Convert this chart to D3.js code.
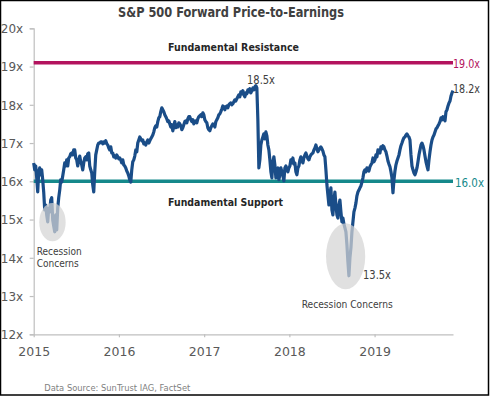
<!DOCTYPE html>
<html>
<head>
<meta charset="utf-8">
<script src="https://cdn.jsdelivr.net/npm/d3@7"></script>
<style>
  html, body { margin: 0; padding: 0; background: #fff; }
  svg { display: block; }
  text { font-family: "DejaVu Sans", "Liberation Sans", sans-serif; }
</style>
</head>
<body>
<svg id="chart" width="491" height="397"></svg>
<script>
// ---- Data ----
const title = "S&P 500 Forward Price-to-Earnings";
const yTicks = [12, 13, 14, 15, 16, 17, 18, 19, 20];
const yTickLabels = ["12x", "13x", "14x", "15x", "16x", "17x", "18x", "19x", "20x"];
const xTicks = [2015, 2016, 2017, 2018, 2019];
const xTickLabels = ["2015", "2016", "2017", "2018", "2019"];
const seriesStart = 2015.0;   // decimal year of first observation
const seriesEnd = 2019.92;    // decimal year of last observation

const pe2015 = [16.48,16.30,16.40,16.09,15.72,16.25,16.35,16.17,16.30,16.04,15.72,15.25,15.38,15.12,14.94,15.30,15.20,15.51,15.57,14.99,14.83,14.68,15.12,14.73,15.30,15.57,15.77,16.04,15.98,16.14,16.30,16.48,16.40,16.56,16.40,16.61,16.64,16.72,16.74,16.69,16.82,16.82,16.61,16.56,16.40,16.56,16.66,16.51,16.43,16.30,16.48,16.61,16.64,16.56,16.72,16.74,16.40,16.30,16.22,15.91,15.72,16.25,16.69,16.82,16.95,17.00,17.00,17.03,17.03,16.98,17.03,17.00,17.06,16.98,16.95,16.87,16.82,16.90,16.74,16.74,16.64,16.66,16.61,16.69,16.64,16.59];
const pe2016 = [16.61,16.56,16.48,16.56,16.43,16.40,16.35,16.27,16.22,16.14,16.04,15.98,16.30,16.51,16.56,16.66,16.82,16.77,17.00,17.08,17.16,17.11,17.06,17.08,16.98,17.00,16.95,17.03,17.08,17.00,17.06,17.11,17.16,17.21,17.29,17.40,17.45,17.42,17.56,17.66,17.69,17.82,17.92,17.87,17.82,17.74,17.69,17.63,17.56,17.58,17.50,17.42,17.48,17.32,17.45,17.56,17.40,17.48,17.42,17.53,17.50,17.45,17.35,17.40,17.48,17.56,17.58,17.53,17.63,17.69,17.69,17.61,17.56,17.61,17.50,17.56,17.58,17.53,17.63,17.69,17.71,17.74,17.69,17.79,17.74];
const pe2017 = [17.61,17.56,17.53,17.40,17.35,17.32,17.40,17.45,17.50,17.48,17.42,17.56,17.61,17.66,17.74,17.76,17.82,17.89,17.97,17.95,17.87,17.95,17.97,17.92,18.00,18.03,18.05,18.00,18.03,18.08,18.13,18.10,18.16,18.21,18.26,18.21,18.34,18.29,18.37,18.26,18.21,18.31,18.29,18.39,18.34,18.42,18.31,18.37,18.44,18.39,18.47,18.50,18.44,17.61,16.35,16.56,16.95,17.08,17.16,17.24,17.11,17.29,17.19,16.95,16.82,16.56,16.25,16.09,16.51,16.64,16.43,16.09,16.30,16.35,16.04,16.17,16.35,16.25,16.14,16.01,16.35,16.40,16.30,16.25,16.35];
const pe2018 = [16.40,16.56,16.48,16.61,16.45,16.48,16.25,16.17,16.35,16.40,16.56,16.64,16.56,16.48,16.61,16.69,16.74,16.66,16.59,16.56,16.64,16.69,16.72,16.74,16.82,16.87,16.95,16.85,16.77,16.82,16.87,16.90,16.85,16.79,16.69,16.64,16.30,15.91,15.64,15.38,15.64,15.83,15.25,15.12,15.51,15.72,15.38,15.12,15.04,15.38,15.51,15.20,14.94,15.04,14.88,14.78,14.68,14.34,13.89,13.53,14.00,14.26,14.68,14.94,15.20,15.30,15.43,15.62,15.72,15.77,15.83,15.88,15.98,16.09,16.25,16.30,16.25,16.35,16.32,16.27,16.38,16.43,16.48,16.61,16.51,16.56];
const pe2019 = [16.69,16.64,16.82,16.77,16.74,16.90,16.85,16.93,16.90,16.82,16.77,16.66,16.53,16.45,16.38,16.25,16.09,15.70,16.04,16.27,16.43,16.53,16.61,16.69,16.82,16.93,17.00,17.08,17.14,17.16,17.21,17.24,17.19,17.16,17.08,16.69,16.40,16.30,16.22,16.17,16.25,16.35,16.51,16.69,16.82,16.95,17.00,16.93,16.82,16.66,16.51,16.40,16.30,16.56,16.77,16.95,17.08,17.16,17.21,17.29,17.37,17.40,17.45,17.50,17.56,17.66,17.61,17.69,17.63,17.58,17.82,17.87,17.97,18.05,18.10,18.23,18.31,18.37];

const resistanceLevel = 19.1;
const supportLevel = 16.0;
const resistanceLabel = "19.0x";
const supportLabel = "16.0x";

const peakLabel = { text: "18.5x" };
const lastLabel = { text: "18.2x" };
const troughLabel = { text: "13.5x" };
const recession2015 = { year: 2015.22, value: 14.93, rxYears: 0.155, ryValue: 0.5 };
const recession2018 = { year: 2018.66, value: 14.04, rxYears: 0.23, ryValue: 0.86 };

// ---- Build series ----
const peValues = [].concat(pe2015, pe2016, pe2017, pe2018, pe2019);
const n = peValues.length;
const series = peValues.map((v, i) => ({ t: seriesStart + (seriesEnd - seriesStart) * i / (n - 1), v }));

// ---- Layout ----
const svg = d3.select("#chart");
const x = d3.scaleLinear().domain([2015, seriesEnd]).range([33.7, 453]);
const y = d3.scaleLinear().domain([12, 20]).range([334.3, 28.3]);

const axisColor = "#bfbfbf";
const labelColor = "#595959";
const lineColor = "#1a4d88";
const resColor = "#b3135e";
const supColor = "#15898b";
const sans = "Liberation Sans, sans-serif";

function txt(xp, yp, s, opts) {
  const t = svg.append("text").attr("x", xp).attr("y", yp).text(s)
    .attr("font-family", opts.family || sans)
    .attr("font-size", opts.size || 12)
    .attr("fill", opts.fill || "#404040");
  if (opts.weight) t.attr("font-weight", opts.weight);
  if (opts.anchor) t.attr("text-anchor", opts.anchor);
  if (opts.len) t.attr("textLength", opts.len).attr("lengthAdjust", "spacingAndGlyphs");
  return t;
}

// border
svg.append("rect").attr("x", 0.5).attr("y", 0.5).attr("width", 488).attr("height", 394.5)
  .attr("fill", "none").attr("stroke", "#000").attr("stroke-width", 1.5);

// title
txt(118, 17, title, { size: 14, weight: "bold", fill: "#404040", len: 226 });

// y axis
const yAxis = d3.axisLeft(y).tickValues(yTicks).tickSize(4).tickFormat((d, i) => yTickLabels[i]);
const gy = svg.append("g").attr("transform", `translate(${x(2015)},0)`).call(yAxis);
gy.select(".domain").attr("stroke", axisColor).attr("stroke-width", 1.2);
gy.selectAll(".tick line").attr("stroke", axisColor).attr("stroke-width", 1.2);
gy.selectAll(".tick text").attr("fill", labelColor).attr("font-size", 12)
  .attr("font-family", sans).attr("x", -10.5).attr("dy", "0.35em");

// x axis
const xAxis = d3.axisBottom(x).tickValues(xTicks).tickSize(3).tickSizeOuter(0).tickFormat((d, i) => xTickLabels[i]);
const gx = svg.append("g").attr("transform", `translate(0,${y(12)})`).call(xAxis);
gx.select(".domain").attr("stroke", axisColor).attr("stroke-width", 1.2);
gx.selectAll(".tick line").attr("stroke", axisColor).attr("stroke-width", 1.2);
gx.selectAll(".tick text").attr("fill", labelColor).attr("font-size", 12.5)
  .attr("font-family", sans).attr("y", 13);

// resistance & support lines
svg.append("line").attr("x1", x(2015)).attr("x2", x(seriesEnd))
  .attr("y1", y(resistanceLevel)).attr("y2", y(resistanceLevel))
  .attr("stroke", resColor).attr("stroke-width", 3.5);
svg.append("line").attr("x1", x(2015)).attr("x2", x(seriesEnd))
  .attr("y1", y(supportLevel)).attr("y2", y(supportLevel))
  .attr("stroke", supColor).attr("stroke-width", 3.5);

txt(x(seriesEnd), y(resistanceLevel) + 5, resistanceLabel, { size: 12, fill: resColor, family: "DejaVu Sans, sans-serif", len: 27 });
txt(x(seriesEnd) + 2, y(supportLevel) + 6, supportLabel, { size: 12.5, fill: supColor, family: "DejaVu Sans, sans-serif", len: 29 });

txt(168, 51, "Fundamental Resistance", { size: 11, weight: "bold", fill: "#262626", len: 131 });
txt(168, 205.5, "Fundamental Support", { size: 11, weight: "bold", fill: "#262626", len: 115 });

// P/E line
const line = d3.line().x(d => x(d.t)).y(d => y(d.v));
svg.append("path").datum(series).attr("d", line).attr("fill", "none")
  .attr("stroke", lineColor).attr("stroke-width", 3.2).attr("stroke-linejoin", "round");

// recession ellipses (over the line, translucent)
[recession2015, recession2018].forEach(r => {
  svg.append("ellipse")
    .attr("cx", x(r.year)).attr("cy", y(r.value))
    .attr("rx", x(2015 + r.rxYears) - x(2015))
    .attr("ry", y(12) - y(12 + r.ryValue))
    .attr("fill", "#d4d4d4").attr("fill-opacity", 0.72);
});

// annotations
const annFont = "DejaVu Sans, sans-serif";
txt(247, 84, peakLabel.text, { size: 12, family: annFont, len: 28 });
const last = series[series.length - 1];
txt(x(last.t), 92.5, lastLabel.text, { size: 12, family: annFont, len: 27 });
txt(363, 279, troughLabel.text, { size: 12, family: annFont, len: 28 });

txt(36.7, 255.3, "Recession", { size: 10.5, len: 45 });
txt(36.7, 267.3, "Concerns", { size: 10.5, len: 42 });
txt(301.7, 307.5, "Recession Concerns", { size: 11, len: 91 });

// source
txt(44.3, 391, "Data Source: SunTrust IAG, FactSet", { size: 9.5, fill: "#7f7f7f", len: 146 });
</script>
</body>
</html>
